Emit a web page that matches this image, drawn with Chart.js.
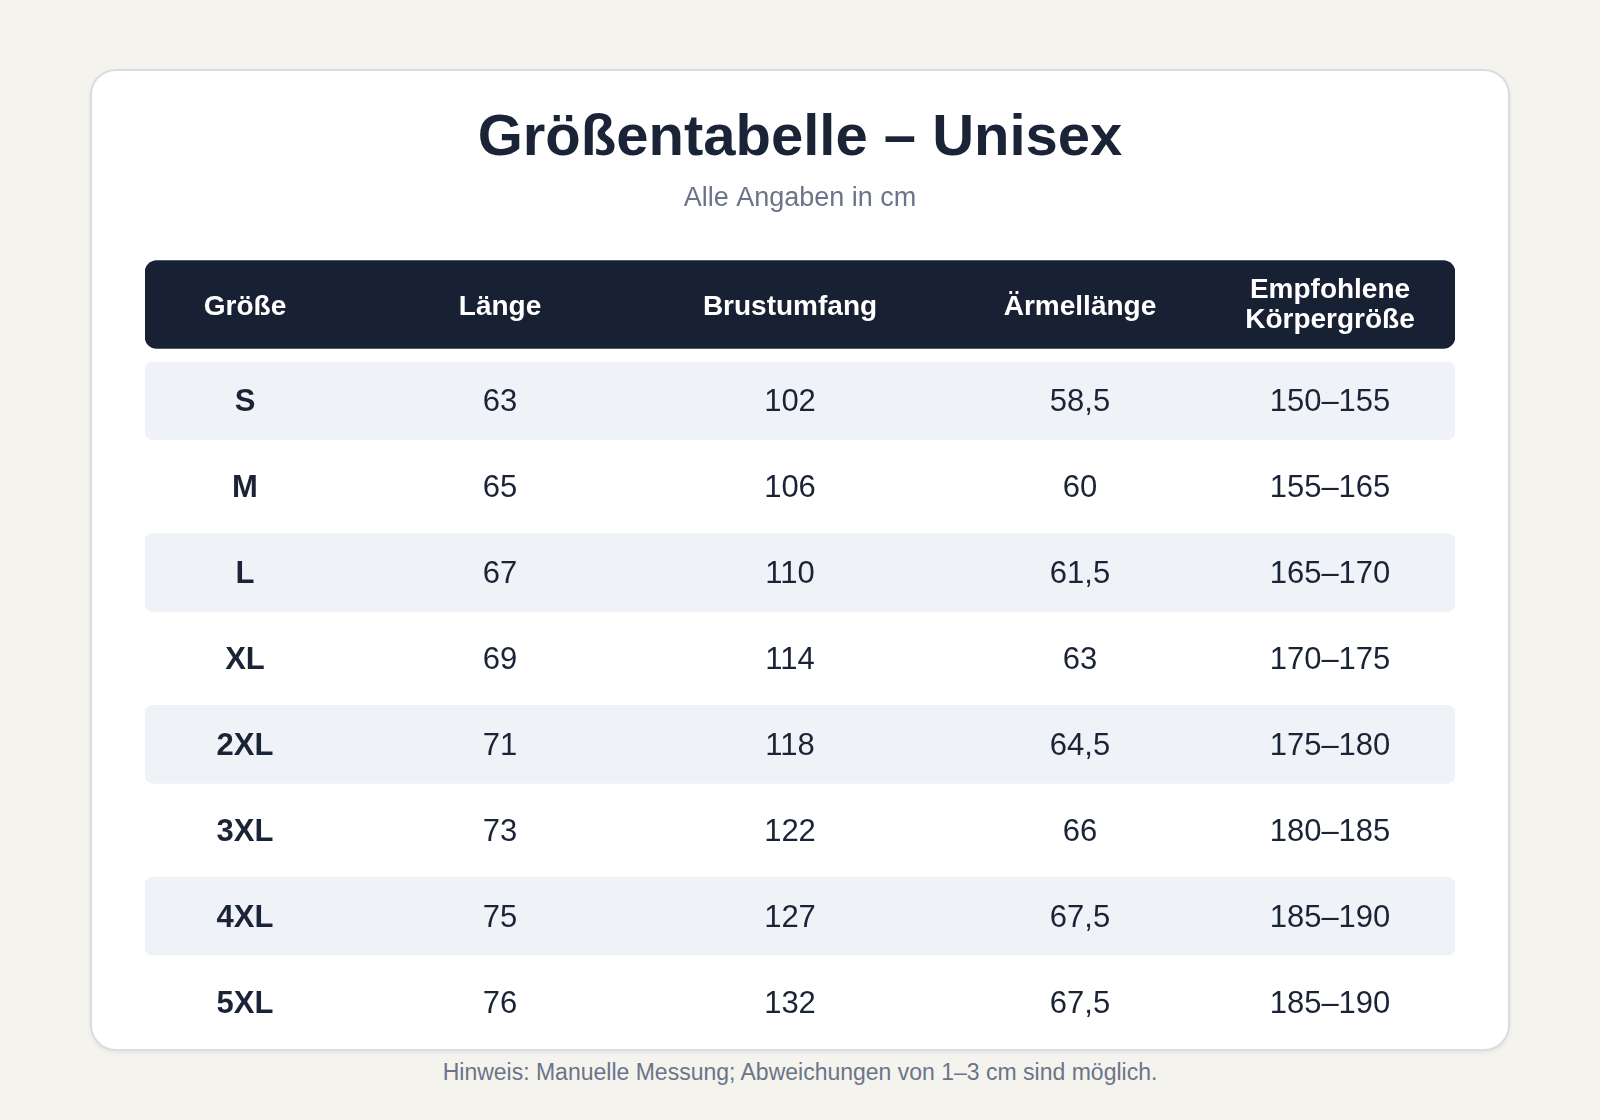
<!DOCTYPE html>
<html lang="de">
<head>
<meta charset="utf-8">
<title>Größentabelle – Unisex</title>
<script src="https://cdn.jsdelivr.net/npm/chart.js@4.4.1/dist/chart.umd.min.js"></script>
<style>
    html, body {
        margin: 0;
        padding: 0;
        width: 1600px;
        height: 1120px;
        background: #f4f3ee;
        font-family: "Liberation Sans", Arial, Helvetica, sans-serif;
    }
    #card {
        position: absolute;
        left: 90px;
        top: 69px;
        width: 1420px;
        height: 982px;
        box-sizing: border-box;
        background: #ffffff;
        border: 2px solid #d9dce2;
        border-radius: 26px;
        box-shadow: 0 2px 4px rgba(20, 30, 50, 0.06);
    }
    #chartWrap {
        position: absolute;
        left: 0;
        top: 0;
        width: 1416px;
        height: 978px;
    }
    #note {
        position: absolute;
        left: 0;
        top: 1059px;
        width: 1600px;
        text-align: center;
        font-size: 23px;
        color: #6b7489;
    }
</style>
</head>
<body>
<div id="card">
    <div id="chartWrap"><canvas id="sizeChart"></canvas></div>
</div>
<div id="note">Hinweis: Manuelle Messung; Abweichungen von 1–3 cm sind möglich.</div>

<script>
// Table data
const columns = ['Größe', 'Länge', 'Brustumfang', 'Ärmellänge', ['Empfohlene', 'Körpergröße']];
const sizes = ['S', 'M', 'L', 'XL', '2XL', '3XL', '4XL', '5XL'];
const laenge = [63, 65, 67, 69, 71, 73, 75, 76];
const brustumfang = [102, 106, 110, 114, 118, 122, 127, 132];
const aermellaenge = [58.5, 60, 61.5, 63, 64.5, 66, 67.5, 67.5];
const koerpergroesse = ['150–155', '155–165', '165–170', '170–175', '175–180', '180–185', '185–190', '185–190'];

// Layout (table units along x, row units along y)
const TABLE_WIDTH = 1310;
const COL_CENTERS = [100, 355, 645, 935, 1185];
const HEADER_ROW = -1.12;

const INK = '#1b2336';
const FONT = '"Liberation Sans", Arial, Helvetica, sans-serif';

function fmt(v) {
    return typeof v === 'number' ? v.toLocaleString('de-DE') : v;
}

// rows of cell text, built from the arrays above
const bodyRows = sizes.map(function(s, i) {
    return [s, laenge[i], brustumfang[i], aermellaenge[i], koerpergroesse[i]];
});

// header bar + striped row bands
const headerBand = [{ x: [0, TABLE_WIDTH], y: HEADER_ROW }];
const stripeBands = sizes
    .map(function(s, i) { return { x: [0, TABLE_WIDTH], y: i }; })
    .filter(function(d) { return d.y % 2 === 0; });

const cellTextPlugin = {
    id: 'cellText',
    afterDatasetsDraw: function(chart) {
        const ctx = chart.ctx;
        const xs = chart.scales.x;
        const ys = chart.scales.y;
        ctx.save();
        ctx.textAlign = 'center';
        ctx.textBaseline = 'middle';

        // header
        ctx.fillStyle = '#ffffff';
        ctx.font = 'bold 28px ' + FONT;
        const hy = ys.getPixelForValue(HEADER_ROW);
        columns.forEach(function(label, c) {
            const cx = xs.getPixelForValue(COL_CENTERS[c]);
            if (Array.isArray(label)) {
                const lh = 30;
                label.forEach(function(line, k) {
                    ctx.fillText(line, cx, hy + (k - (label.length - 1) / 2) * lh + 1);
                });
            } else {
                ctx.fillText(label, cx, hy + 3);
            }
        });

        // body
        ctx.fillStyle = INK;
        bodyRows.forEach(function(row, r) {
            const cy = ys.getPixelForValue(r) + 2;
            row.forEach(function(val, c) {
                ctx.font = (c === 0 ? 'bold ' : '') + '31px ' + FONT;
                ctx.fillText(fmt(val), xs.getPixelForValue(COL_CENTERS[c]), cy);
            });
        });
        ctx.restore();
    }
};

document.addEventListener('DOMContentLoaded', function() {
    const ctx = document.getElementById('sizeChart').getContext('2d');

    window.sizeChart = new Chart(ctx, {
        type: 'bar',
        data: {
            datasets: [{
                label: 'Kopfzeile',
                data: headerBand,
                backgroundColor: '#182033',
                borderRadius: 12,
                borderSkipped: false,
                barThickness: 88,
                grouped: false
            }, {
                label: 'Zeilen',
                data: stripeBands,
                backgroundColor: '#eff3f8',
                borderRadius: 8,
                borderSkipped: false,
                barThickness: 78,
                grouped: false
            }]
        },
        options: {
            indexAxis: 'y',
            responsive: true,
            maintainAspectRatio: false,
            animation: false,
            layout: {
                padding: { left: 53, right: 53, top: 0, bottom: 4 }
            },
            plugins: {
                legend: { display: false },
                tooltip: { enabled: false },
                title: {
                    display: true,
                    text: 'Größentabelle – Unisex',
                    color: INK,
                    font: { family: FONT, size: 58, weight: 'bold' },
                    padding: { top: 33, bottom: 9 }
                },
                subtitle: {
                    display: true,
                    text: 'Alle Angaben in cm',
                    color: '#6b7489',
                    font: { family: FONT, size: 27, weight: 'normal' },
                    padding: { top: 0, bottom: 44 }
                }
            },
            scales: {
                x: {
                    type: 'linear',
                    min: 0,
                    max: TABLE_WIDTH,
                    offset: false,
                    display: false
                },
                y: {
                    type: 'linear',
                    reverse: true,
                    min: -1.65,
                    max: 7.5,
                    offset: false,
                    display: false
                }
            }
        },
        plugins: [cellTextPlugin]
    });
});
</script>
</body>
</html>
